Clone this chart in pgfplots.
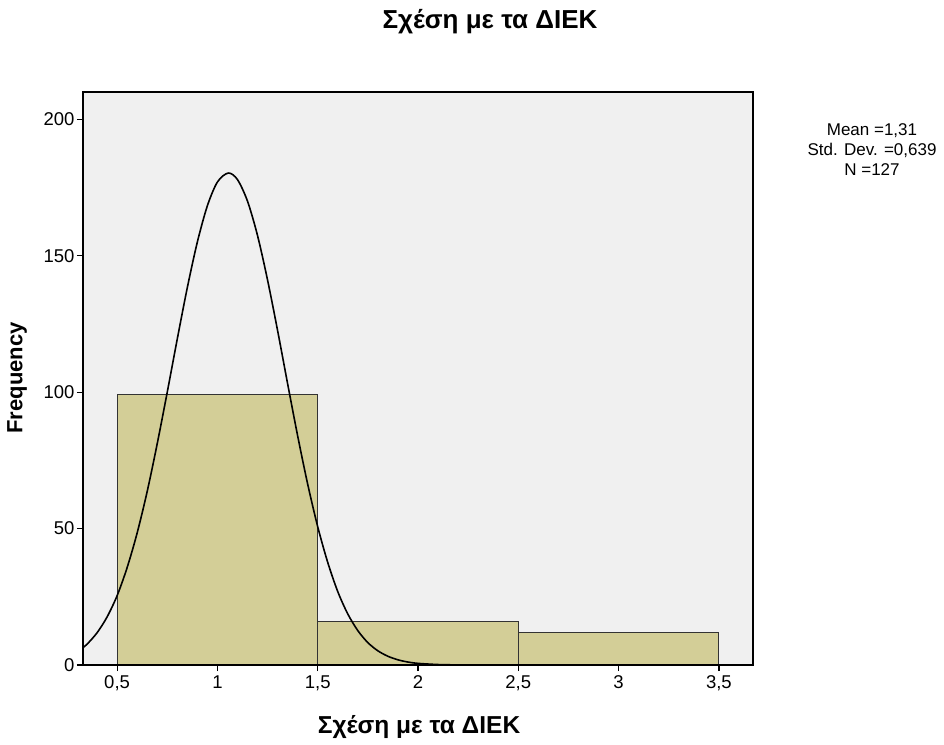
\documentclass[border=0pt]{standalone}
\usepackage{fontspec}
\setmainfont{Liberation Sans}
\usepackage{pgfplots}
\pgfplotsset{compat=1.18}
\definecolor{barfill}{RGB}{211,206,151}
\definecolor{bgfill}{RGB}{240,240,240}
\begin{document}
\begin{tikzpicture}
\path (-83pt,-79pt) rectangle (861pt,665pt);
\begin{axis}[
  at={(0pt,0pt)}, anchor=origin,
  scale only axis, width=670pt, height=573pt,
  xmin=0.33, xmax=3.67, ymin=0, ymax=210,
  axis background/.style={fill=bgfill},
  axis line style={black, line width=1.2pt},
  xtick={0.5,1,1.5,2,2.5,3,3.5},
  ytick={0,50,100,150,200},
  xtick pos=bottom, ytick pos=left,
  tick align=outside, major tick length=6pt,
  tick style={black, line width=1.2pt},
  /pgf/number format/use comma,
  /pgf/number format/assume math mode=true,
  tick label style={font=\fontsize{18.5}{22}\selectfont},
  xticklabel style={yshift=-1pt},
  yticklabel style={xshift=1pt},
  axis on top,
]
\addplot[ybar interval, fill=barfill, draw=black!80, line width=1pt]
  coordinates {(0.5,99) (1.5,16) (2.5,12) (3.5,12)};
\addplot[smooth, black, line width=1.6pt] coordinates {
(0.33,6.4) (0.35,7.6) (0.4,11.8) (0.45,17.6) (0.5,25.4) (0.55,35.7) (0.6,48.4) (0.65,63.6) (0.7,81.1)
(0.75,100.0) (0.8,119.5) (0.85,138.3) (0.9,155.0) (0.95,168.3) (1.0,177.0)
(1.054,180.3) (1.1,177.9) (1.15,170.0) (1.2,157.4) (1.25,141.1) (1.3,122.6)
(1.35,103.1) (1.4,84.0) (1.45,66.3) (1.5,50.7) (1.55,37.6) (1.6,26.9)
(1.65,18.7) (1.7,12.6) (1.75,8.2) (1.8,5.2) (1.85,3.2) (1.9,1.9) (1.95,1.08)
(2.0,0.6) (2.1,0.17) (2.2,0.04) (2.3,0.01) (2.4,0)};
\end{axis}
\node[font=\bfseries\fontsize{26}{30}\selectfont] at (407pt,643pt) {Σχέση με τα ΔΙΕΚ};
\node[font=\bfseries\fontsize{24.5}{28}\selectfont] at (336pt,-62pt) {Σχέση με τα ΔΙΕΚ};
\node[font=\bfseries\fontsize{22}{26}\selectfont, rotate=90] at (-66pt,287pt) {Frequency};
\node[align=center, font=\fontsize{17}{20}\selectfont] at (789pt,515pt) {Mean =1,31\\Std. Dev. =0,639\\N =127};
\end{tikzpicture}
\end{document}
